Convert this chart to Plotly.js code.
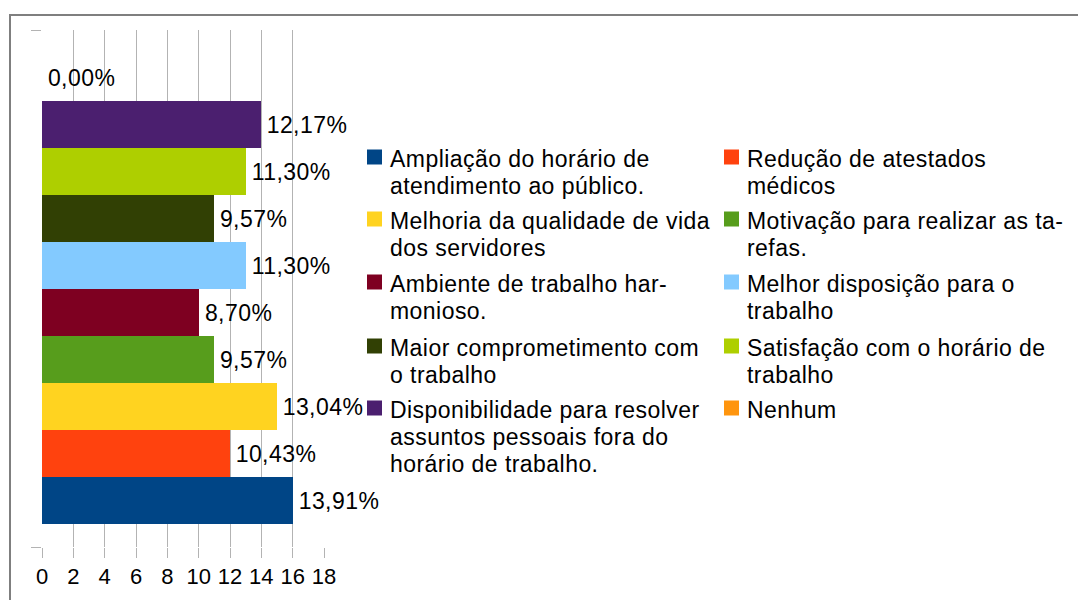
<!DOCTYPE html>
<html>
<head>
<meta charset="utf-8">
<script src="https://cdn.plot.ly/plotly-3.0.1.min.js"></script>
<style>
html,body{margin:0;padding:0;background:#fff;}
#chart{width:1078px;height:600px;}
#chart g.annotation text{letter-spacing:0.45px;}
</style>
</head>
<body>
<div id="chart"></div>
<script>
// Data (bottom to top)
const categories = [
  "Ampliação do horário de atendimento ao público.",
  "Redução de atestados médicos",
  "Melhoria da qualidade de vida dos servidores",
  "Motivação para realizar as tarefas.",
  "Ambiente de trabalho harmonioso.",
  "Melhor disposição para o trabalho",
  "Maior comprometimento com o trabalho",
  "Satisfação com o horário de trabalho",
  "Disponibilidade para resolver assuntos pessoais fora do horário de trabalho.",
  "Nenhum"
];
const counts = [16, 12, 15, 11, 10, 13, 11, 13, 14, 0];
const percentLabels = ["13,91%", "10,43%", "13,04%", "9,57%", "8,70%", "11,30%", "9,57%", "11,30%", "12,17%", "0,00%"];
const colors = ["#004586", "#ff420e", "#ffd320", "#579d1c", "#7e0021", "#83caff", "#314004", "#aecf00", "#4b1f6f", "#ff950e"];
const xTicks = [0, 2, 4, 6, 8, 10, 12, 14, 16, 18];

// Legend text lines (as wrapped in the reference), in legend order
const legendLines = [
  ["Ampliação do horário de", "atendimento ao público."],
  ["Redução de atestados", "médicos"],
  ["Melhoria da qualidade de vida", "dos servidores"],
  ["Motivação para realizar as ta-", "refas."],
  ["Ambiente de trabalho har-", "monioso."],
  ["Melhor disposição para o", "trabalho"],
  ["Maior comprometimento com", "o trabalho"],
  ["Satisfação com o horário de", "trabalho"],
  ["Disponibilidade para resolver", "assuntos pessoais fora do", "horário de trabalho."],
  ["Nenhum"]
];

const W = 1078, H = 600;
const M = {l: 42, r: W - 324, t: 30, b: H - 547};
const PW = W - M.l - M.r, PH = H - M.t - M.b;
const px = x => (x - M.l) / PW;
const py = y => 1 - (y - M.t) / PH;

const ids = categories.map((c, i) => i);

const trace = {
  type: 'bar',
  orientation: 'h',
  x: counts,
  y: ids,
  width: 1,
  marker: {color: colors, line: {width: 0}},
  hovertext: categories,
  hoverinfo: 'text+x',
  showlegend: false
};

const font = "'Liberation Sans', Arial, sans-serif";
const annotations = [];
counts.forEach((v, i) => {
  annotations.push({
    x: v, y: i, xref: 'x', yref: 'y',
    text: percentLabels[i], showarrow: false,
    xanchor: 'left', yanchor: 'middle', xshift: 5, yshift: -1,
    font: {family: font, size: 23, color: '#000'}
  });
});

const shapes = [];
// legend: two columns, rows
const colX = [367, 724];
const rowY = [159, 221, 284, 348, 410];
const lineStep = 27;
legendLines.forEach((lines, i) => {
  const col = i % 2, row = Math.floor(i / 2);
  const sx = colX[col], sy = rowY[row] - 2;
  shapes.push({
    type: 'rect', xref: 'paper', yref: 'paper',
    x0: px(sx), x1: px(sx + 15), y0: py(sy - 7.5), y1: py(sy + 7.5),
    fillcolor: colors[i], line: {width: 0}
  });
  lines.forEach((ln, k) => {
    annotations.push({
      xref: 'paper', yref: 'paper',
      x: px(sx + 21), y: py(rowY[row] + k * lineStep),
      text: ln, showarrow: false, align: 'left',
      xanchor: 'left', yanchor: 'middle',
      font: {family: font, size: 23, color: '#000'}
    });
  });
});
// outer border
shapes.push({
  type: 'rect', xref: 'paper', yref: 'paper',
  x0: px(10), x1: px(1100), y0: py(640), y1: py(15),
  line: {color: '#7f7f7f', width: 2}, fillcolor: 'rgba(0,0,0,0)'
});

const layout = {
  width: W, height: H,
  margin: M,
  paper_bgcolor: '#fff', plot_bgcolor: '#fff',
  bargap: 0,
  xaxis: {
    range: [0, 18], tickvals: xTicks, ticktext: xTicks.map(String),
    showgrid: true, gridcolor: '#b3b3b3', gridwidth: 1,
    zeroline: false, showline: false,
    ticks: 'outside', ticklen: 10, tickcolor: '#b3b3b3', tickwidth: 1,
    tickfont: {family: font, size: 22, color: '#000'}
  },
  yaxis: {
    range: [-1, 10], tickvals: [-1, 10],
    showticklabels: false,
    showgrid: true, gridcolor: '#b3b3b3', gridwidth: 1,
    zeroline: false, showline: false,
    ticks: 'outside', ticklen: 10, tickcolor: '#b3b3b3', tickwidth: 1
  },
  annotations: annotations,
  shapes: shapes,
  showlegend: false
};

Plotly.newPlot('chart', [trace], layout, {displayModeBar: false, staticPlot: true});
</script>
</body>
</html>
